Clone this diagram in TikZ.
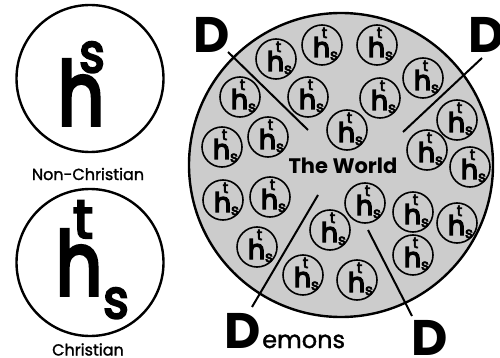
\documentclass[tikz,border=0pt]{standalone}
\usepackage{fontspec}
\setmainfont{Poppins}
\newfontfamily\hfont{Poppins}[FakeBold=4.5]
\newfontfamily\capfont{Poppins}[FakeBold=1.5]
\definecolor{worldgray}{RGB}{204,204,204}
\tikzset{
  ring/.style={circle, draw, line width=1.6pt, fill=worldgray, minimum size=40pt, inner sep=0pt},
  bigring/.style={circle, draw, line width=2.4pt, fill=white, minimum size=147pt, inner sep=0pt},
  glyph/.style={inner sep=0pt, anchor=base},
  hsm/.style={glyph, font=\fontsize{27}{27}\hfont},
  tsm/.style={glyph, font=\fontsize{15}{15}\hfont},
  ssm/.style={glyph, font=\fontsize{15}{15}\hfont},
  hbig/.style={glyph, font=\fontsize{88}{88}\hfont, xscale=0.82, transform shape},
  sbig/.style={glyph, font=\fontsize{54}{54}\hfont, xscale=0.9, transform shape},
  tbig/.style={glyph, font=\fontsize{54}{54}\hfont},
  caption/.style={glyph, font=\fontsize{16}{16}\capfont},
  dlabel/.style={glyph, font=\fontsize{50}{50}\selectfont\bfseries},
  divider/.style={line width=2pt},
  pics/member/.style={code={
    \node[ring] (-c) at (0,0) {};
    \node[hsm] (-h) at (-0.5,12) {h};
    \node[tsm] (-t) at (2.5,-7) {t};
    \node[ssm] (-s) at (12,15) {s};
  }}
}
\begin{document}
\begin{tikzpicture}[x=1pt,y=-1pt]
\useasboundingbox (0,0) rectangle (500,358);
% left symbols
\node[bigring] (nc) at (90,78.5) {};
\node[hbig] (nch) at (81,125) {h};
\node[sbig] (ncs) at (92,72) {s};
\node[caption] (nclabel) at (88,180) {Non-Christian};
\node[bigring] (ch) at (90,262.5) {};
\node[hbig] (chh) at (79,295) {h};
\node[tbig] (cht) at (83,238) {t};
\node[sbig] (chs) at (116,318) {s};
\node[caption] (chlabel) at (88,355.5) {Christian};
% the world
\node[circle, draw, line width=2.4pt, fill=worldgray, minimum size=304pt, inner sep=0pt] (world) at (341,165) {};
\coordinate (a1) at (228,52);  \coordinate (a2) at (308,130);
\coordinate (b1) at (482,58);  \coordinate (b2) at (403,132);
\coordinate (c1) at (318,195); \coordinate (c2) at (252,307);
\coordinate (d1) at (368,230); \coordinate (d2) at (412,316);
\draw[divider] (a1) -- (a2);
\draw[divider] (b1) -- (b2);
\draw[divider] (c1) -- (c2);
\draw[divider] (d1) -- (d2);
\foreach \i/\x/\y in {1/276/59, 2/322/45, 3/377/45, 4/423/78, 5/240/97, 6/308/97,
  7/380/98, 8/347/130, 9/222/147, 10/268/137, 11/457/120, 12/427/150, 13/470/167,
  14/223/200, 15/270/197, 16/365/203, 17/413/212, 18/457/223, 19/330/230,
  20/257/247, 21/413/255, 22/303/275, 23/357/280}
  \pic (m\i) at (\x,\y) {member};
\node[glyph, font=\fontsize{21}{21}\selectfont\bfseries] (wlabel) at (343,173) {The World};
% demons
\node[dlabel] (dtl) at (212,53) {D};
\node[dlabel] (dtr) at (487,53) {D};
\node[dlabel, anchor=base east] (dbl) at (261,348) {D};
\node[glyph, anchor=base west, font=\fontsize{24}{24}\capfont] (emons) at (262,348) {emons};
\node[dlabel] (dbr) at (430,355) {D};
\end{tikzpicture}
\end{document}
